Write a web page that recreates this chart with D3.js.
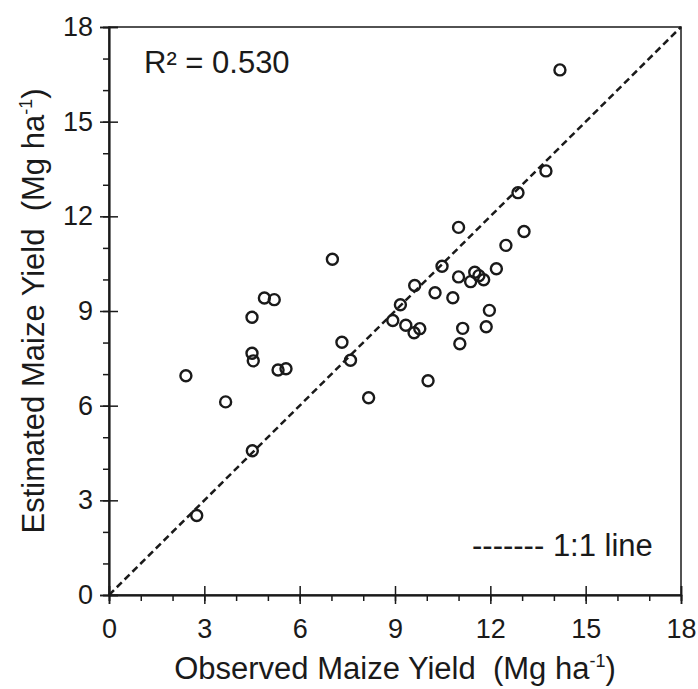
<!DOCTYPE html>
<html>
<head>
<meta charset="utf-8">
<script src="https://cdn.jsdelivr.net/npm/d3@7"></script>
<style>
  html, body { margin: 0; padding: 0; background: #fff; }
  svg { display: block; font-family: "Liberation Sans", Arial, sans-serif; }
</style>
</head>
<body>
<div id="chart"></div>
<script>
// observed vs estimated maize yield (Mg/ha)
const observed = [2.42, 2.76, 3.67, 4.51, 4.50, 4.50, 4.54, 4.89, 5.20, 5.32, 5.57, 7.03, 7.33, 7.60,
  8.17, 8.93, 9.17, 9.34, 9.60, 9.78, 9.62, 10.04, 10.26, 10.48, 10.82, 11.00, 11.00, 11.04, 11.13,
  11.38, 11.51, 11.64, 11.79, 11.87, 11.97, 12.19, 12.49, 13.06, 12.87, 13.75, 14.19];
const estimated = [6.95, 2.52, 6.12, 4.57, 8.80, 7.66, 7.42, 9.41, 9.36, 7.13, 7.17, 10.64, 8.01, 7.44,
  6.25, 8.70, 9.20, 8.55, 8.31, 8.44, 9.81, 6.79, 9.58, 10.42, 9.42, 11.65, 10.08, 7.96, 8.45,
  9.93, 10.23, 10.12, 9.99, 8.50, 9.02, 10.34, 11.08, 11.52, 12.75, 13.44, 16.64];
const majorTicks = [0, 3, 6, 9, 12, 15, 18];
const minorTicks = d3.range(0, 19);
const oneToOne = [0, 18];
const r2Label = "R\u00b2 = 0.530";
const legendLabel = "------- 1:1 line";
const xTitleText = "Observed Maize Yield \u00a0(Mg ha";
const yTitleText = "Estimated Maize Yield \u00a0(Mg ha";

const width = 698, height = 689;
const margin = { top: 27, right: 17, bottom: 94, left: 109 };
const innerWidth = width - margin.left - margin.right;
const innerHeight = height - margin.top - margin.bottom;
const ink = "#1a1a1a";
const font = "Liberation Sans, Arial, sans-serif";

const svg = d3.select("#chart").append("svg").attr("width", width).attr("height", height);
const g = svg.append("g").attr("transform", `translate(${margin.left},${margin.top})`);

const x = d3.scaleLinear().domain([0, 18]).range([0, innerWidth]);
const y = d3.scaleLinear().domain([0, 18]).range([innerHeight, 0]);

// frame (top + right)
g.append("rect").attr("width", innerWidth).attr("height", innerHeight)
  .attr("fill", "none").attr("stroke", ink).attr("stroke-width", 1.5);

function styleAxis(sel) {
  sel.select(".domain").attr("stroke", ink).attr("stroke-width", 1.5);
  sel.selectAll(".tick line").attr("stroke", ink).attr("stroke-width", 1.5);
}

// x axis: minor ticks outward, major ticks cross the line
g.append("g").attr("transform", `translate(0,${innerHeight})`)
  .call(d3.axisBottom(x).tickValues(minorTicks).tickSize(6).tickFormat(""))
  .call(styleAxis);
g.append("g").attr("transform", `translate(0,${innerHeight})`)
  .call(d3.axisTop(x).tickValues(majorTicks).tickSize(9).tickFormat(""))
  .call(styleAxis);
const xAxis = g.append("g").attr("transform", `translate(0,${innerHeight})`)
  .call(d3.axisBottom(x).tickValues(majorTicks).tickSize(9).tickPadding(15).tickFormat(d3.format("d")))
  .call(styleAxis);
xAxis.selectAll("text").attr("font-size", 27).attr("fill", ink).attr("font-family", font);

// y axis
g.append("g")
  .call(d3.axisLeft(y).tickValues(minorTicks).tickSize(6).tickFormat(""))
  .call(styleAxis);
g.append("g")
  .call(d3.axisRight(y).tickValues(majorTicks).tickSize(9).tickFormat(""))
  .call(styleAxis);
const yAxis = g.append("g")
  .call(d3.axisLeft(y).tickValues(majorTicks).tickSize(9).tickPadding(7).tickFormat(d3.format("d")))
  .call(styleAxis);
yAxis.selectAll("text").attr("font-size", 27).attr("fill", ink).attr("font-family", font);

// 1:1 line
g.append("line")
  .attr("x1", x(oneToOne[0])).attr("y1", y(oneToOne[0]))
  .attr("x2", x(oneToOne[1])).attr("y2", y(oneToOne[1]))
  .attr("stroke", ink).attr("stroke-width", 2.5).attr("stroke-dasharray", "7,4");

// points
g.append("g").selectAll("circle")
  .data(observed.map((o, i) => ({ o, e: estimated[i] })))
  .enter().append("circle")
  .attr("cx", (d) => x(d.o))
  .attr("cy", (d) => y(d.e))
  .attr("r", 5.5)
  .attr("fill", "none")
  .attr("stroke", ink)
  .attr("stroke-width", 2.4);

// annotations
svg.append("text").attr("x", 144).attr("y", 73).attr("font-size", 31).attr("fill", ink).text(r2Label);
svg.append("text").attr("x", 472).attr("y", 556).attr("font-size", 31).attr("fill", ink).text(legendLabel);

// axis titles
const xTitle = svg.append("text")
  .attr("x", margin.left + innerWidth / 2).attr("y", 679)
  .attr("text-anchor", "middle").attr("font-size", 31).attr("fill", ink);
xTitle.append("tspan").text(xTitleText);
xTitle.append("tspan").attr("font-size", 18).attr("dy", -12).text("-1");
xTitle.append("tspan").attr("dy", 12).text(")");

const yTitle = svg.append("text")
  .attr("transform", `translate(44,${margin.top + innerHeight / 2}) rotate(-90)`)
  .attr("text-anchor", "middle").attr("font-size", 31).attr("fill", ink);
yTitle.append("tspan").text(yTitleText);
yTitle.append("tspan").attr("font-size", 18).attr("dy", -12).text("-1");
yTitle.append("tspan").attr("dy", 12).text(")");
</script>
</body>
</html>
